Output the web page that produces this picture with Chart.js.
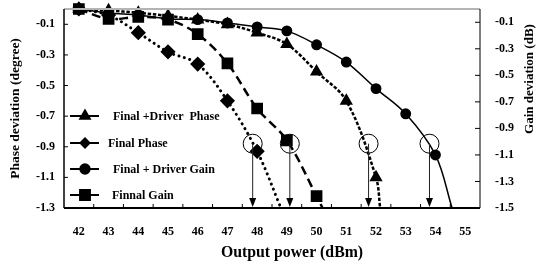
<!DOCTYPE html>
<html><head><meta charset="utf-8">
<script src="https://cdn.jsdelivr.net/npm/chart.js@4/dist/chart.umd.min.js"></script>
<style>html,body{margin:0;padding:0;background:#fff}#wrap{width:538px;height:269px}</style>
</head><body><div id="wrap"><canvas id="c"></canvas></div>
<script>
// ---- data ----
const xLabels = [42,43,44,45,46,47,48,49,50,51,52,53,54,55];
const leftTicks = [-0.1,-0.3,-0.5,-0.7,-0.9,-1.1,-1.3];
const rightTicks = [-0.1,-0.3,-0.5,-0.7,-0.9,-1.1,-1.3,-1.5];

const fdPhaseX = [42,43,44,45,46,47,48,49,50,51,52,52.14];
const fdPhaseY = [0,-0.01,-0.025,-0.045,-0.07,-0.1,-0.155,-0.23,-0.41,-0.6,-1.1,-1.3];

const fPhaseX = [42,43,44,45,46,47,48,48.8];
const fPhaseY = [0,-0.04,-0.155,-0.28,-0.36,-0.6,-0.93,-1.3];

const fdGainX = [42,43,44,45,46,47,48,49,50,51,52,53,54,54.56];
const fdGainY = [0,-0.03,-0.045,-0.075,-0.08,-0.105,-0.135,-0.165,-0.27,-0.4,-0.6,-0.79,-1.1,-1.5];

const fGainX = [42,43,44,45,46,47,48,49,50,50.2];
const fGainY = [0,-0.075,-0.06,-0.08,-0.19,-0.41,-0.75,-0.99,-1.41,-1.5];

const markX = [47.85,49.1,51.75,53.8];
const markY = -0.88;

const seriesNames = ['Final +Driver  Phase','Final Phase','Final + Driver Gain','Finnal Gain'];
const rightTitle = 'Gain deviation (dB)';
const xTitle = 'Output power (dBm)';

// ---- helpers ----
const pts = (xs, ys) => xs.map((x,i)=>({x, y: ys[i]}));
const radii = (xs, last, r) => xs.map((x,i)=> i < last ? r : 0);
const FONT = '"Liberation Serif", "Times New Roman", serif';
const tickFont = {family: FONT, size: 12, weight: 'bold'};
const yTitleFont = {family: FONT, size: 13.5, weight: 'bold'};

const noPad = s => { s.paddingTop = 0; s.paddingBottom = 0; s.paddingLeft = 0; s.paddingRight = 0; };

const frameAndExtras = {
  id: 'frameAndExtras',
  afterDatasetsDraw(chart) {
    const {ctx, chartArea: a, scales} = chart;
    const xs = scales.x, yl = scales.yL, yr = scales.yR;
    ctx.save();
    ctx.setLineDash([]);
    // top border (gray)
    ctx.strokeStyle = '#b4b4b4'; ctx.lineWidth = 2;
    ctx.beginPath(); ctx.moveTo(a.left, a.top); ctx.lineTo(a.right, a.top); ctx.stroke();
    // left, bottom, right
    ctx.strokeStyle = '#000';
    ctx.lineWidth = 1.5;
    ctx.beginPath(); ctx.moveTo(a.left, a.top); ctx.lineTo(a.left, a.bottom); ctx.stroke();
    ctx.lineWidth = 2;
    ctx.beginPath(); ctx.moveTo(a.left, a.bottom); ctx.lineTo(a.right, a.bottom); ctx.stroke();
    ctx.lineWidth = 1;
    ctx.beginPath(); ctx.moveTo(a.right, a.top); ctx.lineTo(a.right, a.bottom); ctx.stroke();
    // inward tick marks
    ctx.beginPath();
    leftTicks.forEach(v => { const y = yl.getPixelForValue(v); ctx.moveTo(a.left, y); ctx.lineTo(a.left + 4, y); });
    rightTicks.forEach(v => { const y = yr.getPixelForValue(v); ctx.moveTo(a.right, y); ctx.lineTo(a.right - 5, y); });
    xLabels.slice(0, -1).forEach(v => { const x = xs.getPixelForValue(v + 0.5); ctx.moveTo(x, a.bottom); ctx.lineTo(x, a.bottom - 4); });
    ctx.stroke();
    // circles + arrows
    markX.forEach(mx => {
      const x = xs.getPixelForValue(mx), y = yl.getPixelForValue(markY);
      ctx.strokeStyle = '#000'; ctx.lineWidth = 1;
      ctx.beginPath(); ctx.arc(x, y, 9.5, 0, Math.PI * 2); ctx.stroke();
      ctx.strokeStyle = '#222';
      ctx.beginPath(); ctx.moveTo(x, y); ctx.lineTo(x, a.bottom - 8); ctx.stroke();
      ctx.fillStyle = '#000';
      ctx.beginPath(); ctx.moveTo(x, a.bottom - 1); ctx.lineTo(x - 3.5, a.bottom - 10); ctx.lineTo(x + 3.5, a.bottom - 10); ctx.closePath(); ctx.fill();
    });
    // legend inside plot
    const rowY = [116, 143, 169, 195];
    const textX = [113, 108, 113, 112];
    chart.data.datasets.forEach((ds, i) => {
      const y = rowY[i];
      ctx.strokeStyle = '#000'; ctx.lineWidth = 2;
      ctx.beginPath(); ctx.moveTo(70, y); ctx.lineTo(99, y); ctx.stroke();
      ctx.fillStyle = '#000';
      Chart.helpers.drawPoint(ctx, {pointStyle: ds.pointStyle, radius: ds.legendRadius, rotation: 0, borderWidth: 1}, 85, y);
      ctx.font = 'bold 12px ' + FONT;
      ctx.textBaseline = 'middle'; ctx.textAlign = 'left';
      ctx.fillText(ds.label, textX[i], y + 1);
    });
    // x axis title
    ctx.font = 'bold 15.8px ' + FONT;
    ctx.textAlign = 'center'; ctx.textBaseline = 'middle';
    ctx.fillText(xTitle, 292, 253);
    // right axis title, reading bottom-to-top
    ctx.save();
    ctx.translate(530, 79);
    ctx.rotate(-Math.PI / 2);
    ctx.font = 'bold 13px ' + FONT;
    ctx.textAlign = 'center'; ctx.textBaseline = 'middle';
    ctx.fillText(rightTitle, 0, 0);
    ctx.restore();
    ctx.restore();
  }
};

const common = {borderColor: '#000', backgroundColor: '#000', pointBorderColor: '#000', pointBackgroundColor: '#000', fill: false, tension: 0.35, clip: {left: 8, right: 8, top: 10, bottom: 0}};

new Chart(document.getElementById('c'), {
  type: 'line',
  data: {
    datasets: [
      Object.assign({}, common, {label: seriesNames[0], data: pts(fdPhaseX, fdPhaseY), yAxisID: 'yL', pointStyle: 'triangle', pointRadius: radii(fdPhaseX, 11, 5.2), legendRadius: 5.5, borderWidth: 2.5, borderDash: [3.5, 1.8]}),
      Object.assign({}, common, {label: seriesNames[1], data: pts(fPhaseX, fPhaseY), yAxisID: 'yL', pointStyle: 'rectRot', pointRadius: radii(fPhaseX, 7, 5.5), legendRadius: 4.5, borderWidth: 3, borderDash: [0.1, 5.5], borderCapStyle: 'round'}),
      Object.assign({}, common, {label: seriesNames[2], data: pts(fdGainX, fdGainY), yAxisID: 'yR', pointStyle: 'circle', pointRadius: radii(fdGainX, 13, 4.7), legendRadius: 4.7, borderWidth: 1.5}),
      Object.assign({}, common, {label: seriesNames[3], data: pts(fGainX, fGainY), yAxisID: 'yR', pointStyle: 'rect', pointRadius: radii(fGainX, 9, 6.5), legendRadius: 7, borderWidth: 2.5, borderDash: [9, 5]})
    ]
  },
  options: {
    responsive: true, maintainAspectRatio: false, animation: false,
    devicePixelRatio: 1,
    layout: {padding: {top: 7, left: 0, right: 0, bottom: 0}},
    plugins: {legend: {display: false}, tooltip: {enabled: false}},
    elements: {point: {borderWidth: 1, hoverRadius: 0}},
    scales: {
      x: {
        type: 'linear', min: 41.5, max: 55.5,
        afterBuildTicks: s => { s.ticks = xLabels.map(v => ({value: v})); },
        afterFit: s => { s.height = 61; noPad(s); },
        grid: {display: false, drawTicks: false}, border: {display: false},
        ticks: {padding: 17, font: tickFont, color: '#000', autoSkip: false, maxRotation: 0, callback: v => String(v)},
        title: {display: false}
      },
      yL: {
        type: 'linear', position: 'left', min: -1.3, max: 0,
        afterBuildTicks: s => { s.ticks = leftTicks.map(v => ({value: v})); },
        afterFit: s => { s.width = 64; noPad(s); },
        grid: {display: false, drawTicks: false}, border: {display: false},
        ticks: {padding: 9, font: tickFont, color: '#000', callback: v => v.toFixed(1)},
        title: {display: true, text: 'Phase deviation (degree)', font: yTitleFont, color: '#000', padding: {top: 7, bottom: 0}}
      },
      yR: {
        type: 'linear', position: 'right', min: -1.5, max: 0,
        afterBuildTicks: s => { s.ticks = rightTicks.map(v => ({value: v})); },
        afterFit: s => { s.width = 58; noPad(s); },
        grid: {display: false, drawTicks: false}, border: {display: false},
        ticks: {padding: 15, font: tickFont, color: '#000', callback: v => v.toFixed(1)},
        title: {display: false}
      }
    }
  },
  plugins: [frameAndExtras]
});
</script>
</body></html>
